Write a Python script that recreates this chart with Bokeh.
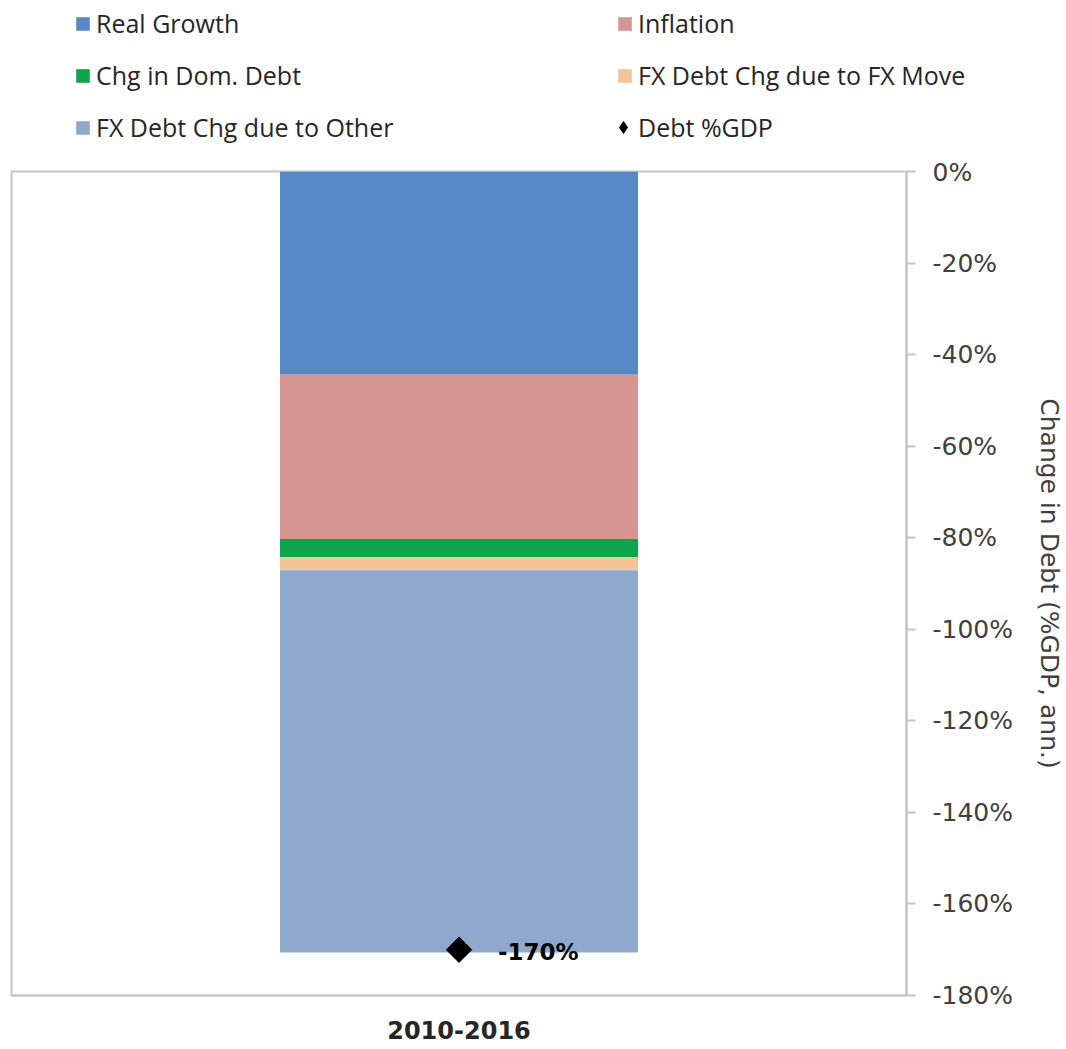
import numpy as np
from bokeh.plotting import figure
from bokeh.layouts import column
from bokeh.models import (ColumnDataSource, Legend, LegendItem, FixedTicker,
                          PrintfTickFormatter, Range1d, FactorRange)
from bokeh.embed import file_html
from bokeh.resources import INLINE
from bokeh.core.properties import value

# ---- data ----
periods = ["2010-2016"]
real_growth = [-44.4]
inflation = [-35.9]
dom_debt = [-3.9]
fx_move = [-2.9]
fx_other = [-83.5]
debt_gdp = [-170.0]

series_keys = ["real_growth", "inflation", "dom_debt", "fx_move", "fx_other"]
series_names = ["Real Growth", "Inflation", "Chg in Dom. Debt",
                "FX Debt Chg due to FX Move", "FX Debt Chg due to Other"]
series_colors = ["#5889c5", "#d69591", "#0ea64b", "#f3c497", "#8fa9cc"]
marker_name = "Debt %GDP"
y_ticks = [0, -20, -40, -60, -80, -100, -120, -140, -160, -180]

src = ColumnDataSource(dict(period=periods, real_growth=real_growth, inflation=inflation,
                            dom_debt=dom_debt, fx_move=fx_move, fx_other=fx_other,
                            debt_gdp=debt_gdp,
                            label=[f"{v:.0f}%" for v in debt_gdp]))

# ---------------- legend strip ----------------
lf = figure(width=1066, height=157, output_backend="svg", toolbar_location=None,
            title=None, x_axis_location=None, y_axis_location=None,
            x_range=FactorRange(*periods), y_range=Range1d(-180, 0),
            min_border_left=0, min_border_right=0, min_border_top=0, min_border_bottom=0)
lf.frame_align = False
lf.outline_line_color = None
lf.xgrid.grid_line_color = None
lf.ygrid.grid_line_color = None
lf.background_fill_color = "white"
lf.border_fill_color = "white"

leg_rs = lf.vbar_stack(series_keys, x="period", width=0.4, fill_color=series_colors,
                       line_color=None, source=src)
leg_dia = lf.scatter(x="period", y="debt_gdp", source=src, marker="diamond",
                     size=12, color="black")
for r in leg_rs + [leg_dia]:
    r.visible = False

common = dict(orientation="vertical", padding=0, margin=0, spacing=18,
              label_height=22, label_text_font="Open Sans", label_text_font_size="25px",
              label_text_color="#262626", background_fill_alpha=0, border_line_alpha=0)

leg1 = Legend(items=[LegendItem(label=series_names[i], renderers=[leg_rs[i]]) for i in (0, 2, 4)],
              location=(74, 13), glyph_width=17, glyph_height=17, label_standoff=5, **common)
leg2 = Legend(items=[LegendItem(label=series_names[i], renderers=[leg_rs[i]]) for i in (1, 3)],
              location=(616, 65), glyph_width=17, glyph_height=17, label_standoff=5, **common)
leg3 = Legend(items=[LegendItem(label=marker_name, renderers=[leg_dia])],
              location=(608, 13), glyph_width=30, glyph_height=30, label_standoff=0, **common)
for lg in (leg1, leg2, leg3):
    lf.add_layout(lg)

# ---------------- main chart ----------------
p = figure(x_range=FactorRange(*periods), y_range=Range1d(-180, 0),
           width=1066, height=892, output_backend="svg", toolbar_location=None,
           title=None, y_axis_location="right",
           min_border_left=11, min_border_right=160, min_border_top=14, min_border_bottom=54)
p.background_fill_color = "white"
p.border_fill_color = "white"
p.outline_line_color = "#c4c4c4"
p.outline_line_width = 2
p.xgrid.grid_line_color = None
p.ygrid.grid_line_color = None

bars = p.vbar_stack(series_keys, x="period", width=0.4, fill_color=series_colors,
                    line_color=None, source=src)
dia = p.scatter(x="period", y="debt_gdp", source=src, marker="square",
                angle=np.pi / 4, size=18, color="black")
p.text(x="period", y="debt_gdp", text="label", source=src, x_offset=39, y_offset=2,
       text_baseline="middle", text_align="left", text_color="black",
       text_font=value("DejaVu Sans"), text_font_style="bold", text_font_size="23px")

# right y axis
ya = p.yaxis[0]
ya.ticker = FixedTicker(ticks=y_ticks)
ya.formatter = PrintfTickFormatter(format="%d%%")
ya.axis_line_color = "#c4c4c4"
ya.axis_line_width = 2
ya.major_tick_line_color = "#c4c4c4"
ya.major_tick_line_width = 2
ya.major_tick_out = 9
ya.major_tick_in = 0
ya.minor_tick_line_color = None
ya.major_label_standoff = 17
ya.major_label_text_font = "DejaVu Sans"
ya.major_label_text_font_size = "25px"
ya.major_label_text_color = "#404040"
ya.axis_label = "Change in Debt (%GDP, ann.)"
ya.axis_label_text_font = "DejaVu Sans"
ya.axis_label_text_font_size = "25px"
ya.axis_label_text_font_style = "normal"
ya.axis_label_text_color = "#404040"
ya.axis_label_standoff = 19

# x axis
xa = p.xaxis[0]
xa.axis_line_color = "#c4c4c4"
xa.axis_line_width = 2
xa.major_tick_line_color = None
xa.minor_tick_line_color = None
xa.major_tick_out = 0
xa.major_label_standoff = 25
xa.major_label_text_font = "DejaVu Sans"
xa.major_label_text_font_style = "bold"
xa.major_label_text_font_size = "24px"
xa.major_label_text_color = "#262626"

layout = column(lf, p, spacing=0)
open("out.html", "w").write(file_html(layout, INLINE))
